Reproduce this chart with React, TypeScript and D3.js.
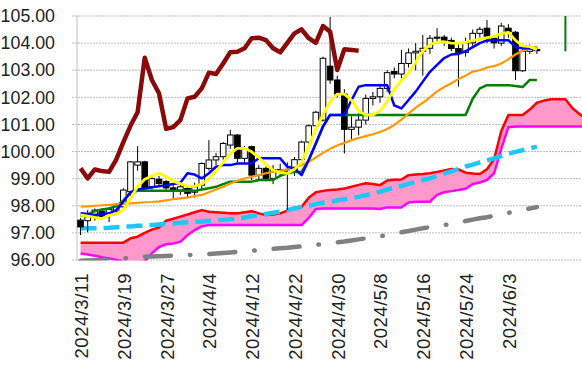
import React, { useEffect, useRef } from "react";
import * as d3 from "d3";

// trading days on the category axis
const dates = [
  "2024/3/11", "2024/3/12", "2024/3/13", "2024/3/14", "2024/3/15",
  "2024/3/18", "2024/3/19", "2024/3/20", "2024/3/21", "2024/3/22",
  "2024/3/25", "2024/3/26", "2024/3/27", "2024/3/28", "2024/3/29",
  "2024/4/1", "2024/4/2", "2024/4/3", "2024/4/4", "2024/4/5",
  "2024/4/8", "2024/4/9", "2024/4/10", "2024/4/11", "2024/4/12",
  "2024/4/15", "2024/4/16", "2024/4/17", "2024/4/18", "2024/4/19",
  "2024/4/22", "2024/4/23", "2024/4/24", "2024/4/25", "2024/4/26",
  "2024/4/29", "2024/4/30", "2024/5/1", "2024/5/2", "2024/5/3",
  "2024/5/6", "2024/5/7", "2024/5/8", "2024/5/9", "2024/5/10",
  "2024/5/13", "2024/5/14", "2024/5/15", "2024/5/16", "2024/5/17",
  "2024/5/20", "2024/5/21", "2024/5/22", "2024/5/23", "2024/5/24",
  "2024/5/27", "2024/5/28", "2024/5/29", "2024/5/30", "2024/5/31",
  "2024/6/3", "2024/6/4", "2024/6/5", "2024/6/6", "2024/6/7",
];
// blank slots used by the cloud that is pushed ahead
const futureSlots = ["", "", "", "", "", "", ""];

// candles
const open = [
  97.47, 97.45, 97.6, 97.8, 97.66, 97.8, 97.96, 98.52, 99.5, 99.62,
  98.7, 98.98, 98.89, 98.66, 98.58, 98.64, 98.5, 98.76, 99.38, 99.69,
  99.81, 100.24, 100.61, 99.75, 100.18, 99.13, 99.38, 99.01, 99.34, 99.28,
  99.25, 99.7, 100.35, 100.95, 101.16, 103.15, 102.64, 102.12, 100.82, 100.9,
  101.16, 101.96, 102.02, 102.33, 102.95, 102.86, 103.25, 103.64, 103.7, 103.81,
  104.18, 104.22, 104.1, 103.8, 103.66, 104.01, 104.36, 104.55, 104.18, 104.0,
  104.55, 104.4, 102.98, 103.7, 103.76,
];
const high = [
  97.55, 97.84, 97.9, 97.9, 97.95, 98.1, 98.65, 99.65, 100.2, 99.66,
  99.1, 99.1, 98.95, 98.76, 98.8, 98.72, 98.85, 99.6, 100.42, 99.95,
  100.35, 100.8, 100.65, 100.2, 100.22, 99.5, 99.45, 99.5, 99.55, 99.6,
  99.8, 100.4, 101.0, 101.5, 103.5, 104.97, 102.8, 102.3, 101.3, 101.4,
  102.1, 102.2, 102.5, 103.0, 103.1, 103.75, 103.8, 104.0, 104.3, 104.3,
  104.55, 104.3, 104.2, 104.0, 104.2, 104.5, 104.6, 104.85, 104.3, 104.75,
  104.7, 104.45, 103.85, 103.95, 103.85,
];
const low = [
  96.92, 97.02, 97.45, 97.5, 97.4, 97.65, 97.9, 98.3, 99.3, 98.6,
  98.6, 98.7, 98.55, 98.27, 98.4, 98.3, 98.3, 98.6, 99.3, 99.5,
  99.7, 100.1, 99.6, 99.55, 98.95, 98.95, 98.9, 98.8, 99.1, 97.84,
  99.1, 99.55, 100.2, 100.8, 101.1, 102.5, 102.0, 99.93, 100.4, 100.6,
  101.0, 101.7, 101.8, 102.2, 102.7, 102.7, 103.1, 103.0, 102.8, 103.6,
  104.0, 103.9, 103.7, 102.4, 103.5, 103.9, 104.2, 104.0, 103.8, 103.9,
  104.2, 102.64, 102.94, 103.6, 103.6,
];
const close = [
  97.22, 97.6, 97.84, 97.6, 97.86, 98.03, 98.58, 99.62, 99.62, 98.64,
  99.0, 98.82, 98.66, 98.58, 98.7, 98.46, 98.7, 99.56, 99.69, 99.81,
  100.3, 100.61, 99.75, 100.1, 99.13, 99.38, 99.01, 99.34, 99.28, 99.25,
  99.7, 100.35, 100.95, 101.45, 103.44, 102.64, 102.12, 100.82, 100.9, 101.16,
  101.96, 102.02, 102.33, 102.91, 102.86, 103.25, 103.64, 103.7, 103.81, 104.18,
  104.22, 104.1, 103.8, 103.66, 104.01, 104.36, 104.51, 104.18, 104.01, 104.63,
  104.42, 102.98, 103.7, 103.78, 103.72,
];

// conversion line (yellow)
const tenkan = [
  97.66, 97.62, 97.57, 97.53, 97.65, 97.7, 97.85, 98.28, 98.7, 98.98,
  99.1, 99.2, 99.08, 98.9, 98.82, 98.72, 98.72, 98.8, 99.0, 99.28,
  99.6, 99.93, 100.12, 100.12, 99.99, 99.78, 99.52, 99.32, 99.22, 99.2,
  99.35, 99.6, 100.2, 100.85, 101.35, 101.85, 102.12, 102.12, 101.9, 101.5,
  101.35, 101.35, 101.5, 101.85, 102.3, 102.62, 102.9, 103.3, 103.7, 103.95,
  104.04, 104.05, 104.0, 103.99, 104.03, 104.1, 104.15, 104.2, 104.25, 104.35,
  104.4, 104.1, 103.9, 103.87, 103.76,
];
// base line (blue)
const kijun = [
  97.72, 97.7, 97.66, 97.7, 97.72, 97.84, 98.15, 98.5, 98.6, 98.64,
  98.68, 98.72, 98.76, 98.8, 98.85, 99.2, 99.15, 99.01, 99.2, 99.44,
  99.5, 99.5, 99.56, 99.56, 99.56, 99.75, 99.75, 99.75, 99.75, 99.44,
  99.38, 99.13, 99.69, 100.3, 100.92, 101.35, 101.35, 101.35, 101.9, 102.39,
  102.45, 102.45, 102.45, 102.45, 101.7, 101.59, 101.9, 102.21, 102.58, 102.94,
  103.2, 103.45, 103.58, 103.6, 103.7, 103.85, 104.0, 104.1, 104.11, 104.11,
  104.11, 103.85, 103.81, 103.81, 103.75,
];
// lagging line (dark red)
const chikou = [
  99.38, 99.01, 99.34, 99.28, 99.25, 99.7, 100.35, 100.95, 101.45, 103.46,
  102.64, 102.15, 100.84, 100.9, 101.16, 101.96, 102.02, 102.33, 102.91, 102.86,
  103.25, 103.66, 103.68, 103.81, 104.18, 104.2, 104.11, 103.81, 103.66, 104.01,
  104.36, 104.51, 104.18, 104.01, 104.63, 104.42, 103.01, 103.77, 103.75, 103.72,
];
// leading span A (red) and B (magenta), incl. the days ahead
const spanA = [
  96.64, 96.64, 96.64, 96.64, 96.64, 96.64, 96.64, 96.8, 96.86, 97.0,
  97.12, 97.2, 97.45, 97.52, 97.6, 97.68, 97.76, 97.84, 97.78, 97.76,
  97.74, 97.72, 97.72, 97.76, 97.8, 97.72, 97.66, 97.68, 97.72, 97.82,
  97.93, 97.96, 98.3, 98.5, 98.55, 98.58, 98.6, 98.64, 98.7, 98.77,
  98.83, 98.8, 98.76, 98.93, 98.96, 98.97, 99.13, 99.15, 99.17, 99.2,
  99.25, 99.3, 99.36, 99.34, 99.22, 99.19, 99.17, 99.35, 99.72, 100.75,
  101.35, 101.35, 101.35, 101.55, 101.8, 101.88, 101.93, 101.93, 101.93, 101.6,
  101.38, 101.2,
];
const spanB = [
  96.24, 96.2, 96.16, 96.1, 96.06, 96.0, 95.94, 95.9, 95.9, 95.95,
  96.25, 96.48, 96.58, 96.61, 96.67, 96.92, 97.1, 97.24, 97.29, 97.29,
  97.29, 97.29, 97.29, 97.29, 97.29, 97.29, 97.29, 97.29, 97.29, 97.29,
  97.29, 97.29, 97.55, 97.88, 97.9, 97.9, 97.9, 97.9, 97.9, 97.9,
  97.9, 97.9, 97.88, 97.94, 97.94, 97.94, 98.12, 98.15, 98.15, 98.15,
  98.4, 98.5, 98.54, 98.58, 98.63, 98.8, 98.86, 98.95, 99.2, 100.1,
  100.9, 100.92, 100.92, 100.92, 100.92, 100.92, 100.92, 100.92, 100.92, 100.92,
  100.92, 100.92,
];
// moving averages
const maOrange = [
  97.97, 97.98, 98.0, 98.02, 98.03, 98.05, 98.07, 98.09, 98.11, 98.13,
  98.14, 98.16, 98.2, 98.24, 98.27, 98.3, 98.36, 98.4, 98.5, 98.6,
  98.7, 98.82, 98.92, 99.0, 99.07, 99.13, 99.2, 99.25, 99.3, 99.34,
  99.42, 99.5, 99.62, 99.78, 99.95, 100.1, 100.22, 100.32, 100.42, 100.5,
  100.57, 100.64, 100.72, 100.83, 100.98, 101.18, 101.4, 101.62, 101.8, 102.0,
  102.22, 102.38, 102.52, 102.68, 102.8, 102.95, 103.0, 103.1, 103.15, 103.25,
  103.4, 103.58, 103.72, 103.8, 103.87,
];
const midGreen = [
  97.62, 97.68, 97.8, 97.86, 97.9, 97.98, 98.2, 98.48, 98.55, 98.55,
  98.55, 98.55, 98.55, 98.55, 98.55, 98.55, 98.55, 98.6, 98.65, 98.7,
  98.8, 98.89, 98.89, 98.89, 98.89, 98.95, 98.95, 98.95, 99.1, 99.2,
  99.25, 99.25, 99.69, 100.3, 100.92, 101.35, 101.35, 101.35, 101.35, 101.35,
  101.35, 101.35, 101.35, 101.35, 101.35, 101.35, 101.35, 101.35, 101.35, 101.35,
  101.35, 101.35, 101.35, 101.35, 101.35, 101.95, 102.33, 102.45, 102.45, 102.45,
  102.45, 102.42, 102.38, 102.64, 102.64,
];
const maCyan = [
  97.17, 97.17, 97.17, 97.18, 97.19, 97.21, 97.23, 97.24, 97.26, 97.27,
  97.29, 97.31, 97.33, 97.35, 97.37, 97.39, 97.41, 97.42, 97.44, 97.46,
  97.48, 97.5, 97.53, 97.57, 97.62, 97.66, 97.7, 97.74, 97.78, 97.84,
  97.9, 97.96, 98.0, 98.06, 98.11, 98.15, 98.2, 98.24, 98.28, 98.33,
  98.39, 98.45, 98.52, 98.6, 98.67, 98.73, 98.81, 98.88, 98.95, 99.01,
  99.1, 99.19, 99.27, 99.35, 99.45, 99.52, 99.6, 99.67, 99.75, 99.83,
  99.92, 99.99, 100.05, 100.12, 100.18,
];
const maGray = [
  95.97, 95.98, 95.99, 96.0, 96.02, 96.04, 96.06, 96.08, 96.1, 96.12,
  96.13, 96.14, 96.15, 96.16, 96.17, 96.18, 96.19, 96.2, 96.22, 96.24,
  96.26, 96.28, 96.3, 96.32, 96.34, 96.36, 96.38, 96.41, 96.43, 96.45,
  96.48, 96.5, 96.53, 96.56, 96.59, 96.62, 96.65, 96.68, 96.72, 96.76,
  96.8, 96.84, 96.88, 96.92, 96.97, 97.02, 97.07, 97.12, 97.17, 97.21,
  97.25, 97.29, 97.33, 97.37, 97.44, 97.49, 97.54, 97.58, 97.63, 97.68,
  97.74, 97.8, 97.85, 97.9, 97.95,
];
// the short green bar up in the future area
const markerIndex = 68;
const markerRange = [103.7, 105.0];

const yTicks = [96, 97, 98, 99, 100, 101, 102, 103, 104, 105];
const labelEvery = 6;

function IchimokuChart() {
  const svgRef = useRef<SVGSVGElement>(null);

  useEffect(() => {
    var categories = dates.concat(futureSlots);
    var width = 582, height = 373;
    var left = 77, top = 16, bottom = 260, step = 7.13;
    var font = "'Liberation Sans', Arial, sans-serif";

    var svg = d3.select(svgRef.current);
    svg.selectAll("*").remove();

    var x = d3
      .scaleBand<number>()
      .domain(d3.range(categories.length))
      .range([left, left + step * categories.length]);
    var cx = (i: number) => (x(i) as number) + x.bandwidth() / 2;
    var y = d3.scaleLinear().domain([96, 105]).range([bottom, top]);

    svg.append("rect").attr("width", width).attr("height", height).attr("fill", "#fff");

    // dotted gridlines
    svg
      .selectAll(".grid")
      .data(yTicks)
      .join("line")
      .attr("class", "grid")
      .attr("x1", left - 5)
      .attr("x2", width)
      .attr("y1", (d) => y(d))
      .attr("y2", (d) => y(d))
      .attr("stroke", "#bcbcbc")
      .attr("stroke-dasharray", "2,1");

    svg
      .append("line")
      .attr("x1", left)
      .attr("x2", left)
      .attr("y1", top)
      .attr("y2", bottom)
      .attr("stroke", "#bfbfbf");

    // y labels
    svg
      .selectAll(".ylab")
      .data(yTicks)
      .join("text")
      .attr("class", "ylab")
      .attr("x", 55)
      .attr("y", (d) => y(d))
      .attr("dy", "0.35em")
      .attr("text-anchor", "end")
      .attr("font-family", font)
      .attr("font-size", 17.8)
      .attr("fill", "#222")
      .text((d) => d3.format(".2f")(d));

    // x labels, rotated
    var labelIdx = d3.range(categories.length).filter((i) => i % labelEvery === 0 && categories[i] !== "");
    svg
      .selectAll(".xlab")
      .data(labelIdx)
      .join("text")
      .attr("class", "xlab")
      .attr("transform", (i) => `translate(${cx(i)}, 273) rotate(-90)`)
      .attr("dy", "0.4em")
      .attr("text-anchor", "end")
      .attr("font-family", font)
      .attr("font-size", 18.5)
      .attr("letter-spacing", 0.5)
      .attr("fill", "#222")
      .text((i) => categories[i]);

    svg
      .append("clipPath")
      .attr("id", "plotClip")
      .append("rect")
      .attr("x", left)
      .attr("y", top - 1)
      .attr("width", width - left)
      .attr("height", bottom - top + 1.5);

    var plot = svg.append("g").attr("clip-path", "url(#plotClip)");

    var line = d3
      .line<number>()
      .x((d, i) => cx(i))
      .y((d) => y(d));

    // cloud
    var cloud = d3
      .area<number>()
      .x((d, i) => cx(i))
      .y0((d, i) => y(spanB[i]))
      .y1((d) => y(d));
    plot.append("path").attr("d", cloud(spanA)).attr("fill", "#ff99cc");

    var drawLine = (values: number[], color: string, w: number, dash?: string, cap?: string) =>
      plot
        .append("path")
        .attr("d", line(values))
        .attr("fill", "none")
        .attr("stroke", color)
        .attr("stroke-width", w)
        .attr("stroke-linejoin", "round")
        .attr("stroke-dasharray", dash || null)
        .attr("stroke-linecap", cap || "butt");

    drawLine(spanA, "#ff0000", 2.5);
    drawLine(spanB, "#ff00ff", 2.5);
    drawLine(maGray, "#808080", 4.5, "26,19,0.5,19", "round");
    drawLine(maCyan, "#1ec8f5", 4.5, "16,7");

    // candles
    var bodyW = 5.6;
    var candles = plot
      .selectAll(".candle")
      .data(d3.range(open.length))
      .join("g")
      .attr("class", "candle");
    candles
      .append("line")
      .attr("x1", (i) => cx(i))
      .attr("x2", (i) => cx(i))
      .attr("y1", (i) => y(high[i]))
      .attr("y2", (i) => y(low[i]))
      .attr("stroke", "#000")
      .attr("stroke-width", 1);
    candles
      .append("rect")
      .attr("x", (i) => cx(i) - bodyW / 2)
      .attr("y", (i) => y(Math.max(open[i], close[i])))
      .attr("width", bodyW)
      .attr("height", (i) => Math.max(1, Math.abs(y(open[i]) - y(close[i]))))
      .attr("fill", (i) => (close[i] >= open[i] ? "#fff" : "#000"))
      .attr("stroke", "#000")
      .attr("stroke-width", 1);

    drawLine(midGreen, "#008000", 2.5);
    drawLine(maOrange, "#ff9900", 2.2);
    drawLine(kijun, "#0000ff", 2.5);
    drawLine(tenkan, "#ffff00", 2.8);
    drawLine(chikou, "#8a0a0a", 4.5);

    plot
      .append("line")
      .attr("x1", cx(markerIndex))
      .attr("x2", cx(markerIndex))
      .attr("y1", y(markerRange[0]))
      .attr("y2", y(markerRange[1]))
      .attr("stroke", "#008000")
      .attr("stroke-width", 2);
  }, []);

  return (
    <svg
      ref={svgRef}
      width={582}
      height={373}
      style={{ position: "absolute", left: 0, top: 0, display: "block" }}
    />
  );
}

export default function App() {
  return <IchimokuChart />;
}
